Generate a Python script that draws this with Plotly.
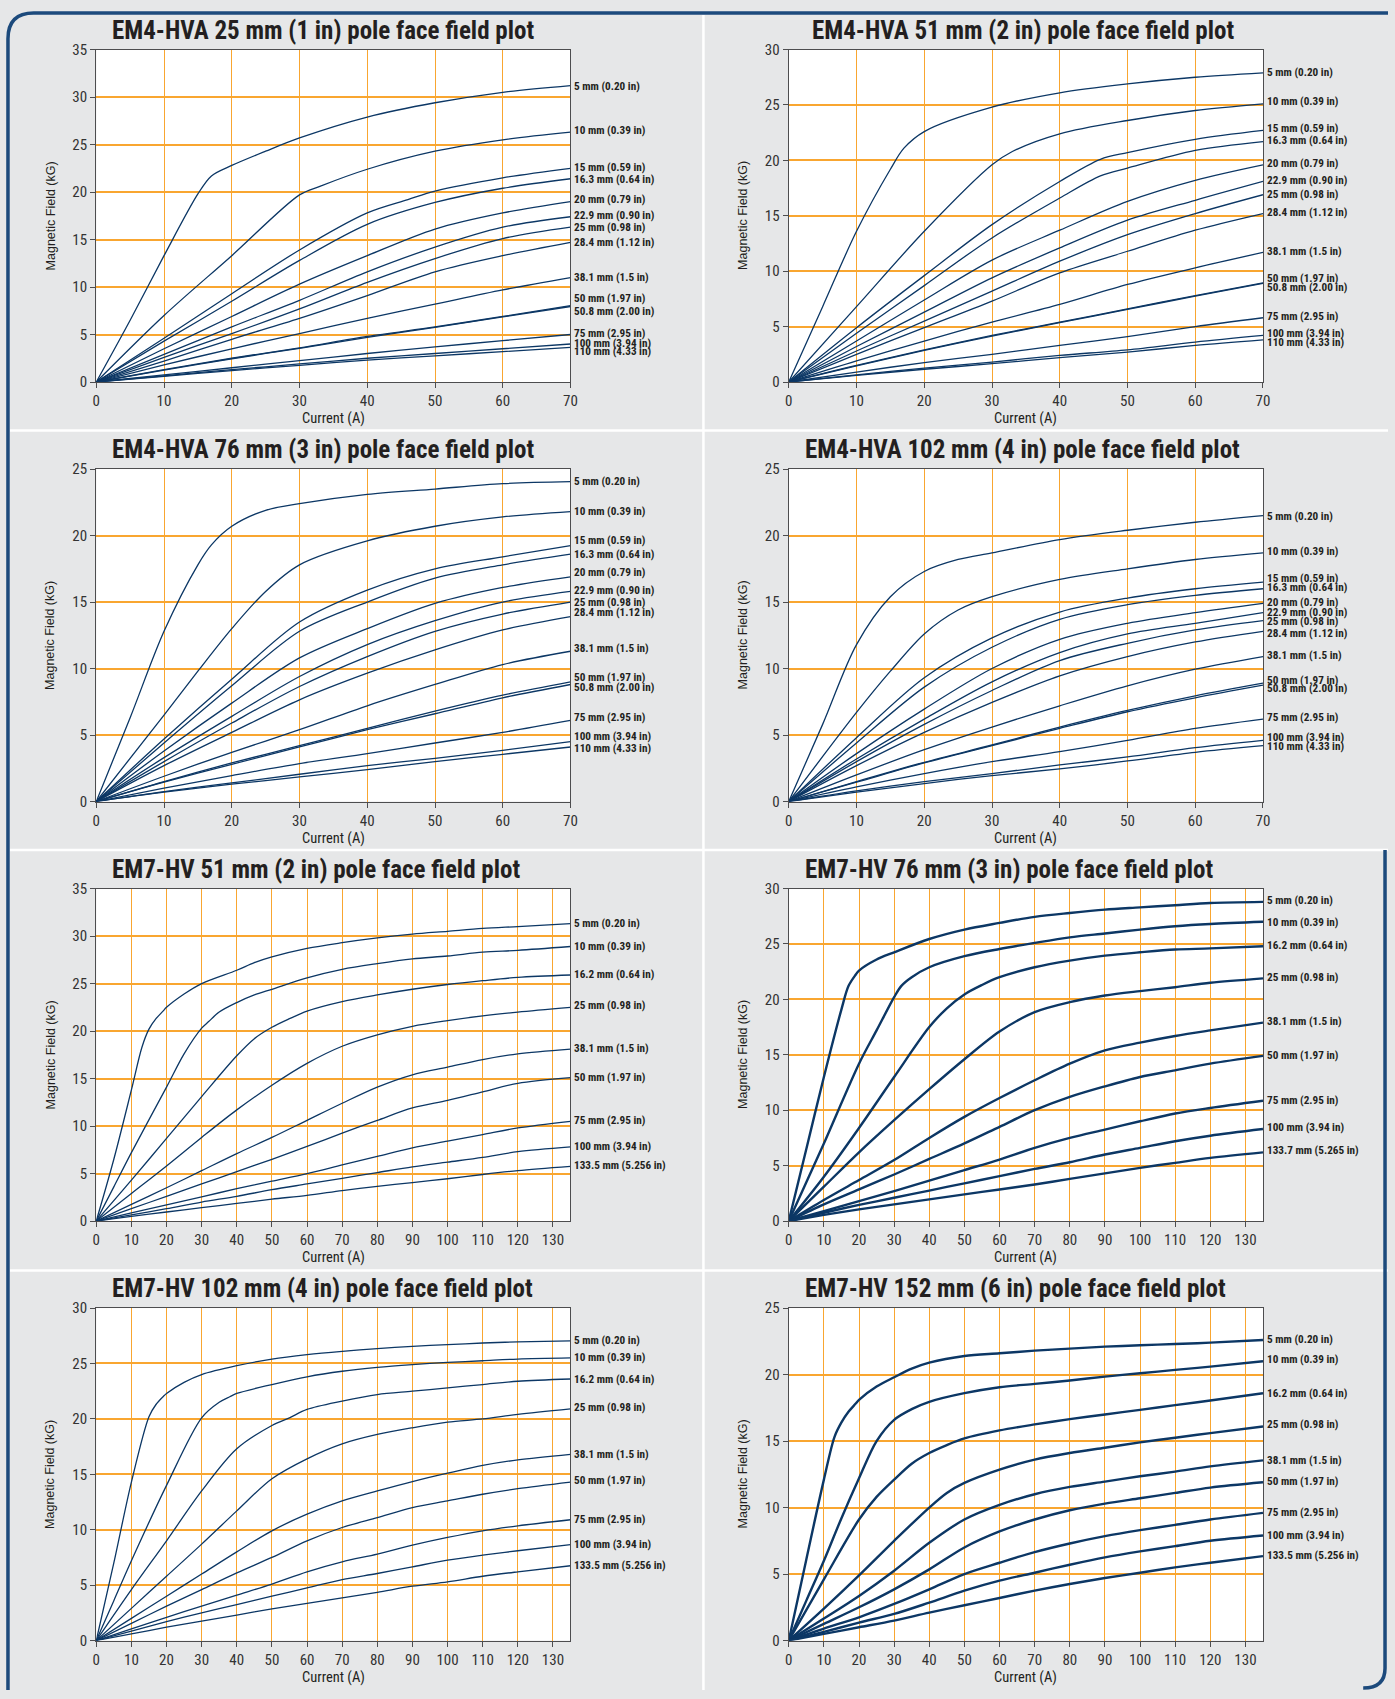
import plotly.graph_objects as go

N = None
W, H = 1395, 1699

# ---------------- x grids (Current, A) ----------------
em4_current = [0, 10, 20, 30, 40, 50, 60, 70]
em4_current_fine = [0, 5, 10, 15, 17, 20, 25, 30, 33, 40, 46, 50, 60, 70]
em7_current = [0, 10, 20, 30, 40, 50, 60, 70, 80, 90, 100, 110, 120, 135]
em7_current_fine = [0, 5, 10, 13, 15, 17, 19, 20, 25, 30, 32, 35, 38, 40, 45,
                    50, 55, 60, 70, 80, 90, 100, 110, 120, 135]

# ---------------- gap labels ----------------
em4_gaps = ["5 mm (0.20 in)", "10 mm (0.39 in)", "15 mm (0.59 in)", "16.3 mm (0.64 in)",
            "20 mm (0.79 in)", "22.9 mm (0.90 in)", "25 mm (0.98 in)", "28.4 mm (1.12 in)",
            "38.1 mm (1.5 in)", "50 mm (1.97 in)", "50.8 mm (2.00 in)", "75 mm (2.95 in)",
            "100 mm (3.94 in)", "110 mm (4.33 in)"]
em7_gaps = ["5 mm (0.20 in)", "10 mm (0.39 in)", "16.2 mm (0.64 in)", "25 mm (0.98 in)",
            "38.1 mm (1.5 in)", "50 mm (1.97 in)", "75 mm (2.95 in)", "100 mm (3.94 in)",
            "133.5 mm (5.256 in)"]
em7_gaps_76 = ["5 mm (0.20 in)", "10 mm (0.39 in)", "16.2 mm (0.64 in)", "25 mm (0.98 in)",
               "38.1 mm (1.5 in)", "50 mm (1.97 in)", "75 mm (2.95 in)", "100 mm (3.94 in)",
               "133.7 mm (5.265 in)"]

titles = ["EM4-HVA 25 mm (1 in) pole face field plot",
          "EM4-HVA 51 mm (2 in) pole face field plot",
          "EM4-HVA 76 mm (3 in) pole face field plot",
          "EM4-HVA 102 mm (4 in) pole face field plot",
          "EM7-HV 51 mm (2 in) pole face field plot",
          "EM7-HV 76 mm (3 in) pole face field plot",
          "EM7-HV 102 mm (4 in) pole face field plot",
          "EM7-HV 152 mm (6 in) pole face field plot"]
y_max = [35, 30, 25, 25, 35, 30, 30, 25]
x_max = [70, 70, 70, 70, 135, 135, 135, 135]

# ---------------- field values (kG) ----------------
p1_field = [
    [0, 6.5, 13.3, 19.8, 21.7, 22.8, 24.3, 25.7, N, 27.9, N, 29.4, 30.5, 31.2],
    [0, N, 7.0, N, N, 13.3, N, 19.7, 20.6, 22.4, N, 24.3, 25.5, 26.3],
    [0, N, 4.6, N, N, 9.3, N, 13.9, N, 17.8, 19.2, 20.1, 21.5, 22.5],
    [0, 4.3, 8.5, 12.8, 16.6, 18.9, 20.4, 21.4],
    [0, 3.5, 6.9, 10.3, 13.3, 16.1, 17.8, 19.0],
    [0, 2.9, 5.8, 8.6, 11.6, 14.2, 16.3, 17.4],
    [0, 2.6, 5.1, 7.7, 10.5, 13.0, 15.1, 16.3],
    [0, 2.2, 4.5, 6.7, 9.1, 11.6, 13.3, 14.7],
    [0, 1.8, 3.5, 5.1, 6.7, 8.2, 9.7, 11.0],
    [0, 1.3, 2.5, 3.6, 4.8, 5.8, 6.9, 8.05],
    [0, 1.25, 2.45, 3.55, 4.7, 5.75, 6.85, 7.95],
    [0, 0.75, 1.5, 2.25, 3.0, 3.7, 4.35, 5.0],
    [0, 0.65, 1.3, 1.9, 2.5, 3.0, 3.5, 4.0],
    [0, 0.6, 1.2, 1.75, 2.3, 2.75, 3.2, 3.65],
]
p1_label_y = [31.15, 26.45, 22.6, 21.3, 19.2, 17.5, 16.25, 14.7, 11.0, 8.8, 7.45, 5.15, 4.1, 3.2]

p2_field = [
    [0, 6.8, 13.6, 19.2, 21.1, 22.6, N, 24.8, N, 26.1, N, 26.9, 27.5, 27.9],
    [0, N, 6.8, N, N, 13.6, N, 19.6, 20.8, 22.4, N, 23.6, 24.5, 25.1],
    [0, N, 4.9, N, N, 9.6, N, 14.2, N, 18.1, 20.1, 20.7, 21.9, 22.7],
    [0, N, 4.4, N, N, 8.7, N, 13.0, N, 16.6, 18.6, 19.3, 20.9, 21.7],
    [0, 3.7, 7.4, 11.0, 13.7, 16.3, 18.2, 19.6],
    [0, 3.2, 6.3, 9.4, 12.1, 14.6, 16.4, 18.1],
    [0, 2.8, 5.5, 8.2, 10.9, 13.3, 15.2, 16.9],
    [0, 2.5, 4.9, 7.3, 9.85, 11.8, 13.7, 15.2],
    [0, 1.9, 3.7, 5.4, 7.0, 8.8, 10.3, 11.7],
    [0, 1.5, 2.9, 4.2, 5.4, 6.6, 7.8, 8.95],
    [0, 1.45, 2.85, 4.15, 5.35, 6.55, 7.75, 8.9],
    [0, 0.9, 1.75, 2.5, 3.3, 4.1, 5.0, 5.8],
    [0, 0.65, 1.25, 1.8, 2.4, 2.9, 3.6, 4.2],
    [0, 0.6, 1.15, 1.65, 2.2, 2.7, 3.3, 3.8],
]
p2_label_y = [27.9, 25.3, 22.85, 21.75, 19.7, 18.15, 16.9, 15.3, 11.8, 9.35, 8.5, 5.9, 4.35, 3.6]

p3_field = [
    [0, 6.3, 12.8, 17.8, 19.3, 20.7, 21.9, 22.4, N, 23.1, N, 23.5, 23.9, 24.05],
    [0, N, 6.5, 9.8, N, 13.0, 15.8, 17.8, N, 19.6, N, 20.7, 21.4, 21.8],
    [0, 4.7, 9.2, 13.5, 15.9, 17.5, 18.4, 19.25],
    [0, 4.4, 8.7, 12.8, 15.0, 16.8, 17.8, 18.6],
    [0, 3.8, 7.4, 10.8, 13.0, 14.9, 16.1, 16.9],
    [0, 3.3, 6.4, 9.4, 11.8, 13.6, 15.0, 15.8],
    [0, 3.0, 5.9, 8.65, 10.9, 12.8, 14.1, 15.0],
    [0, 2.7, 5.2, 7.65, 9.65, 11.4, 12.9, 13.9],
    [0, 1.9, 3.7, 5.4, 7.2, 8.8, 10.3, 11.3],
    [0, 1.5, 2.9, 4.2, 5.5, 6.8, 8.0, 9.0],
    [0, 1.45, 2.8, 4.1, 5.4, 6.6, 7.8, 8.8],
    [0, 1.0, 1.95, 2.85, 3.6, 4.4, 5.2, 6.1],
    [0, 0.75, 1.4, 2.05, 2.7, 3.25, 3.85, 4.5],
    [0, 0.7, 1.3, 1.85, 2.4, 3.0, 3.55, 4.1],
]
p3_label_y = [24.1, 21.8, 19.6, 18.6, 17.2, 15.9, 15.0, 14.25, 11.5, 9.3, 8.6, 6.3, 4.9, 3.95]

p4_field = [
    [0, 5.8, 11.8, 15.4, N, 17.3, 18.2, 18.7, N, 19.7, N, 20.4, 21.0, 21.5],
    [0, N, 6.7, 9.8, N, 12.6, 14.4, 15.4, N, 16.7, N, 17.5, 18.2, 18.7],
    [0, 4.8, 9.3, 12.3, 14.25, 15.3, 16.0, 16.5],
    [0, 4.4, 8.6, 11.6, 13.7, 14.8, 15.5, 16.0],
    [0, 3.6, 6.95, 10.0, 12.2, 13.4, 14.2, 14.9],
    [0, 3.2, 6.2, 9.0, 11.2, 12.6, 13.4, 14.2],
    [0, 3.0, 5.8, 8.35, 10.6, 11.9, 12.9, 13.6],
    [0, 2.7, 5.2, 7.45, 9.45, 10.9, 12.0, 12.8],
    [0, 2.0, 3.9, 5.6, 7.2, 8.7, 9.95, 10.9],
    [0, 1.5, 2.95, 4.25, 5.6, 6.85, 7.95, 8.9],
    [0, 1.45, 2.9, 4.2, 5.5, 6.75, 7.8, 8.75],
    [0, 1.1, 2.1, 3.0, 3.75, 4.6, 5.5, 6.2],
    [0, 0.8, 1.5, 2.1, 2.75, 3.35, 4.05, 4.6],
    [0, 0.7, 1.35, 1.95, 2.45, 3.05, 3.7, 4.2],
]
p4_label_y = [21.4, 18.8, 16.8, 16.1, 15.0, 14.2, 13.55, 12.65, 10.95, 9.1, 8.5, 6.35, 4.8, 4.1]

p5_field = [
    [0, 6.5, 13.8, 18.3, 20.2, 21.3, 22.1, 22.5, 23.9, 25.0, N, N, N, 26.4, 27.2,
     27.8, N, 28.7, 29.3, 29.8, 30.2, 30.5, 30.8, 31.0, 31.3],
    [0, 3.6, 7.2, N, N, N, N, 14.1, 17.6, 20.3, 21.0, 22.0, N, 23.0, 23.8,
     24.4, N, 25.6, 26.5, 27.1, 27.6, 27.9, 28.3, 28.5, 28.9],
    [0, N, 4.3, N, N, N, N, 8.7, N, 13.1, N, N, N, 17.4, 19.2,
     20.4, 21.3, 22.1, 23.1, 23.8, 24.4, 24.9, 25.3, 25.65, 25.9],
    [0, 2.9, 5.8, 8.8, 11.7, 14.3, 16.6, 18.4, 19.6, 20.5, 21.1, 21.6, 22.0, 22.5],
    [0, 1.75, 3.5, 5.3, 7.1, 8.8, 10.6, 12.4, 14.1, 15.4, 16.2, 17.0, 17.6, 18.1],
    [0, 1.3, 2.6, 3.9, 5.2, 6.5, 7.85, 9.25, 10.6, 11.9, 12.7, 13.6, 14.5, 15.1],
    [0, 0.85, 1.7, 2.55, 3.4, 4.2, 5.0, 5.9, 6.8, 7.7, 8.4, 9.1, 9.8, 10.5],
    [0, 0.65, 1.3, 2.0, 2.6, 3.3, 3.9, 4.5, 5.1, 5.7, 6.2, 6.7, 7.3, 7.8],
    [0, 0.5, 0.95, 1.4, 1.85, 2.3, 2.7, 3.2, 3.65, 4.05, 4.45, 4.9, 5.3, 5.75],
]
p5_label_y = [31.3, 28.9, 26.0, 22.7, 18.15, 15.15, 10.55, 7.8, 5.8]

p6_field = [
    [0, 6.5, 13.0, N, 19.1, 21.2, 22.2, 22.6, 23.6, 24.25, N, N, N, 25.45, N,
     26.3, N, 26.9, 27.45, 27.8, 28.1, 28.3, 28.5, 28.7, 28.8],
    [0, 3.5, 7.0, N, N, N, N, 14.2, 17.2, 20.2, 21.2, 22.0, N, 22.9, N,
     23.9, N, 24.55, 25.1, 25.6, 25.95, 26.3, 26.6, 26.8, 27.0],
    [0, N, 4.0, N, N, N, N, 8.4, N, 13.0, N, N, N, 17.5, 19.2,
     20.45, 21.3, 22.0, 22.9, 23.5, 23.95, 24.25, 24.5, 24.6, 24.8],
    [0, 3.1, 6.2, 9.1, 11.9, 14.6, 17.1, 18.85, 19.75, 20.35, 20.75, 21.1, 21.5, 21.9],
    [0, 1.9, 3.7, 5.5, 7.5, 9.4, 11.1, 12.7, 14.2, 15.4, 16.1, 16.7, 17.2, 17.9],
    [0, 1.5, 2.85, 4.2, 5.6, 7.0, 8.5, 10.0, 11.2, 12.15, 13.0, 13.6, 14.2, 14.9],
    [0, 0.9, 1.8, 2.7, 3.65, 4.6, 5.55, 6.6, 7.5, 8.25, 9.0, 9.7, 10.2, 10.85],
    [0, 0.75, 1.45, 2.1, 2.75, 3.4, 4.05, 4.7, 5.3, 6.0, 6.6, 7.2, 7.7, 8.3],
    [0, 0.55, 1.05, 1.5, 1.95, 2.4, 2.85, 3.3, 3.8, 4.3, 4.8, 5.25, 5.7, 6.2],
]
p6_label_y = [28.9, 26.9, 24.85, 22.0, 18.0, 14.9, 10.85, 8.4, 6.35]

p7_field = [
    [0, 7.0, 14.3, N, 20.2, 21.3, 22.0, 22.3, 23.3, 24.0, N, N, N, 24.8, N,
     25.4, N, 25.8, 26.1, 26.35, 26.55, 26.7, 26.85, 26.95, 27.05],
    [0, 3.6, 7.2, N, N, N, N, 14.0, N, 20.1, N, 21.5, 22.0, 22.3, N,
     23.1, N, 23.8, 24.3, 24.65, 24.9, 25.1, 25.25, 25.4, 25.5],
    [0, N, 4.6, N, N, N, N, 9.0, N, 13.5, N, N, N, 17.3, N,
     19.4, 20.1, 20.85, 21.6, 22.2, 22.5, 22.8, 23.1, 23.4, 23.6],
    [0, 2.9, 5.8, 8.7, 11.7, 14.6, 16.4, 17.75, 18.6, 19.2, 19.7, 20.0, 20.4, 20.9],
    [0, 2.0, 4.0, 6.0, 8.0, 9.9, 11.4, 12.6, 13.5, 14.35, 15.1, 15.8, 16.3, 16.8],
    [0, 1.55, 3.1, 4.6, 6.1, 7.5, 9.0, 10.2, 11.1, 12.0, 12.6, 13.2, 13.7, 14.3],
    [0, 1.05, 2.1, 3.1, 4.1, 5.1, 6.2, 7.1, 7.8, 8.6, 9.3, 9.9, 10.35, 10.9],
    [0, 0.85, 1.7, 2.5, 3.25, 4.0, 4.75, 5.5, 6.05, 6.65, 7.25, 7.7, 8.1, 8.65],
    [0, 0.6, 1.2, 1.75, 2.3, 2.85, 3.35, 3.85, 4.35, 4.9, 5.3, 5.8, 6.2, 6.75],
]
p7_label_y = [27.1, 25.5, 23.6, 21.0, 16.8, 14.4, 10.9, 8.65, 6.8]

p8_field = [
    [0, 6.1, 12.1, 15.3, 16.4, 17.2, 17.8, 18.1, 19.1, 19.8, N, 20.45, N, 20.9, N,
     21.4, N, 21.6, 21.8, 21.95, 22.1, 22.2, 22.3, 22.4, 22.6],
    [0, 3.0, 6.0, N, 9.2, N, N, 12.2, 15.0, 16.6, N, 17.4, N, 17.95, N,
     18.6, N, 19.05, 19.3, 19.55, 19.85, 20.1, 20.35, 20.6, 21.0],
    [0, N, 4.6, N, N, N, N, 9.1, 10.8, 12.1, N, 13.3, N, 14.1, 14.7,
     15.2, N, 15.8, 16.25, 16.65, 17.0, 17.35, 17.7, 18.05, 18.6],
    [0, N, 2.4, N, N, N, N, 4.9, N, 7.5, N, N, N, 10.0, 11.1,
     11.85, N, 12.85, 13.6, 14.1, 14.5, 14.9, 15.25, 15.6, 16.1],
    [0, 1.65, 3.35, 5.25, 7.35, 9.1, 10.2, 11.0, 11.55, 11.95, 12.35, 12.7, 13.1, 13.55],
    [0, 1.25, 2.5, 3.85, 5.35, 7.0, 8.2, 9.1, 9.8, 10.3, 10.7, 11.1, 11.5, 11.9],
    [0, 0.9, 1.75, 2.75, 3.85, 5.0, 5.85, 6.65, 7.3, 7.85, 8.3, 8.7, 9.1, 9.6],
    [0, 0.65, 1.35, 2.0, 2.85, 3.75, 4.5, 5.1, 5.7, 6.25, 6.7, 7.1, 7.5, 7.9],
    [0, 0.5, 1.0, 1.5, 2.1, 2.65, 3.2, 3.75, 4.25, 4.7, 5.1, 5.5, 5.85, 6.35],
]
p8_label_y = [22.65, 21.1, 18.6, 16.25, 13.55, 11.95, 9.6, 7.9, 6.4]

fields = [p1_field, p2_field, p3_field, p4_field, p5_field, p6_field, p7_field, p8_field]
label_ys = [p1_label_y, p2_label_y, p3_label_y, p4_label_y,
            p5_label_y, p6_label_y, p7_label_y, p8_label_y]
gap_names = [em4_gaps, em4_gaps, em4_gaps, em4_gaps, em7_gaps, em7_gaps_76, em7_gaps, em7_gaps]

# ---------------- styling ----------------
NAVY = "#0c3765"
ORANGE = "#f9a630"
AXIS = "#4d4d4f"
BG = "#e6e7e8"
FRAME = "#1c4a7c"
NARROW = "Liberation Sans Narrow, Arial Narrow, Roboto Condensed, sans-serif"
SANS = "Liberation Sans, Arial, Helvetica, sans-serif"

col_x = [(93, 571), (791, 1269)]
row_y = [(41, 377), (465, 801), (889, 1225), (1313, 1649)]
line_w = [1.3, 1.3, 1.3, 1.3, 1.3, 2.4, 1.3, 2.4]
title_dx = [14, 21, 14, 14, 14, 14, 14, 14]


def px(x):
    return x / W


def py(y):
    return 1 - y / H


fig = go.Figure()
annotations = []
layout = {}

for i in range(8):
    n = i + 1
    c, r = i % 2, i // 2
    x0, x1 = col_x[c]
    yt, yb = row_y[r]
    xs_name = "x" if n == 1 else f"x{n}"
    ys_name = "y" if n == 1 else f"y{n}"
    fine = em4_current_fine if x_max[i] == 70 else em7_current_fine
    coarse = em4_current if x_max[i] == 70 else em7_current

    for row in fields[i]:
        grid = fine if len(row) == len(fine) else coarse
        xx = [g for g, v in zip(grid, row) if v is not None]
        yy = [v for v in row if v is not None]
        fig.add_trace(go.Scatter(
            x=xx, y=yy, mode="lines", xaxis=xs_name, yaxis=ys_name,
            line=dict(color=NAVY, width=line_w[i], shape="spline", smoothing=0.9),
            hoverinfo="skip", showlegend=False))

    tick_x = list(range(0, 71, 10)) if x_max[i] == 70 else list(range(0, 131, 10))
    layout["xaxis" if n == 1 else f"xaxis{n}"] = dict(
        domain=[px(x0), px(x1)], anchor=ys_name, range=[0, x_max[i]],
        tickvals=tick_x, showgrid=True, gridcolor=ORANGE, gridwidth=1.4,
        showline=True, linecolor=AXIS, linewidth=1.3, mirror=True,
        ticks="outside", ticklen=5, tickcolor=AXIS, zeroline=False,
        tickfont=dict(family=NARROW, size=15, color="#333333"))
    layout["yaxis" if n == 1 else f"yaxis{n}"] = dict(
        domain=[py(yb), py(yt)], anchor=xs_name, range=[0, y_max[i]],
        dtick=5, showgrid=True, gridcolor=ORANGE, gridwidth=1.6,
        showline=True, linecolor=AXIS, linewidth=1.3, mirror=True,
        ticks="outside", ticklen=5, tickcolor=AXIS, zeroline=False,
        tickfont=dict(family=NARROW, size=15, color="#333333"))

    annotations.append(dict(
        text="<b>" + titles[i] + "</b>", xref="paper", yref="paper",
        x=px(x0 + title_dx[i]), y=py(yt - 3), xanchor="left", yanchor="bottom",
        showarrow=False, font=dict(family=NARROW, size=25, color="#231f20")))
    annotations.append(dict(
        text="Magnetic Field (kG)", xref="paper", yref="paper",
        x=px(x0 - 46), y=py((yt + yb) / 2), xanchor="center", yanchor="middle",
        textangle=-90, showarrow=False, font=dict(family=SANS, size=12.5, color="#231f20")))
    annotations.append(dict(
        text="Current (A)", xref="paper", yref="paper",
        x=px((x0 + x1) / 2), y=py(yb + 37), xanchor="center", yanchor="middle",
        showarrow=False, font=dict(family=NARROW, size=14.5, color="#231f20")))
    for name, ly in zip(gap_names[i], label_ys[i]):
        annotations.append(dict(
            text="<b>" + name + "</b>", xref="paper", yref=ys_name,
            x=px(x1 + 3), y=ly, xanchor="left", yanchor="middle",
            showarrow=False, borderpad=0,
            font=dict(family=NARROW, size=11.2, color="#231f20")))

shapes = []
for yy in [426, 850, 1275]:
    shapes.append(dict(type="line", xref="paper", yref="paper",
                       x0=px(6), x1=1, y0=py(yy), y1=py(yy),
                       line=dict(color="white", width=2.5)))
shapes.append(dict(type="line", xref="paper", yref="paper",
                   x0=px(705), x1=px(705), y0=0, y1=py(6),
                   line=dict(color="white", width=2.5)))
rad = 26
p = (f"M {px(4)},0 L {px(4)},{py(4 + rad)} "
     f"Q {px(4)},{py(4)} {px(4 + rad)},{py(4)} L 1,{py(4)}")
shapes.append(dict(type="path", xref="paper", yref="paper", path=p,
                   line=dict(color=FRAME, width=3.5)))
p2 = (f"M {px(1392)},{py(850)} L {px(1392)},{py(1699 - 22)} "
      f"Q {px(1392)},{py(1697)} {px(1370)},{py(1697)}")
shapes.append(dict(type="path", xref="paper", yref="paper", path=p2,
                   line=dict(color=FRAME, width=3.5)))

layout.update(dict(
    width=W, height=H, margin=dict(l=0, r=0, t=0, b=0),
    paper_bgcolor=BG, plot_bgcolor="white",
    showlegend=False, annotations=annotations, shapes=shapes))
fig.update_layout(**layout)

fig.write_html("out.html", config={"displayModeBar": False},
               post_script="document.body.style.margin='0px';document.body.style.overflow='hidden';")
